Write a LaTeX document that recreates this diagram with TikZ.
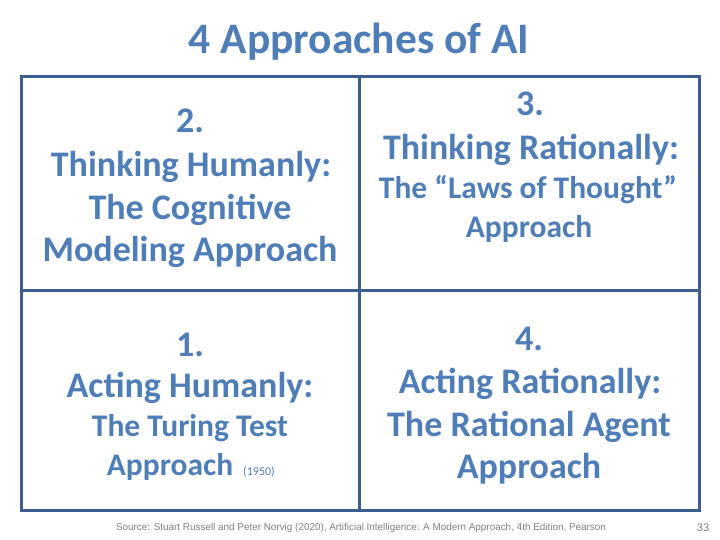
\documentclass[tikz,border=0pt]{standalone}
\usepackage{fontspec}
\setmainfont{Carlito}
\newfontfamily\footfont{Liberation Sans}
\definecolor{gridc}{HTML}{3B5E8C}
\definecolor{txtc}{HTML}{4F7DB8}
\definecolor{footc}{HTML}{7F7F7F}
\begin{document}
\begin{tikzpicture}[x=1pt,y=-1pt,
  lbl/.style={anchor=base,text=txtc,inner sep=0pt,font=\bfseries\fontsize{#1}{#1}\selectfont},
  grid/.style={draw=gridc,line width=3pt}]
\useasboundingbox (0,0) rectangle (720,540);
\node[lbl=43.5] (title) at (359,54) {4 Approaches of AI};
\coordinate (tl) at (21,77);
\coordinate (br) at (699,510);
\draw[grid] (tl) rectangle (br);
\coordinate (mt) at (359,77);
\coordinate (mb) at (359,510);
\coordinate (ml) at (21,290);
\coordinate (mr) at (699,290);
\draw[grid] (mt) -- (mb);
\draw[grid] (ml) -- (mr);
% Q2
\node[lbl=36] (q2a) at (190,133) {2.};
\node[lbl=36] (q2b) at (191,177) {Thinking Humanly:};
\node[lbl=36] (q2c) at (190,219) {The Cognitive};
\node[lbl=36] (q2d) at (190,261) {Modeling Approach};
% Q3
\node[lbl=36] (q3a) at (530,116) {3.};
\node[lbl=36] (q3b) at (531,160) {Thinking Rationally:};
\node[lbl=31.5] (q3c) at (528,199) {The “Laws of Thought”};
\node[lbl=31.5] (q3d) at (529,237) {Approach};
% Q1
\node[lbl=36] (q1a) at (190,356) {1.};
\node[lbl=36] (q1b) at (190,397) {Acting Humanly:};
\node[lbl=31.5] (q1c) at (190,436) {The Turing Test};
\node[lbl=31.5] (q1d) at (170,475) {Approach};
\node[anchor=base west,text=txtc,inner sep=0pt,font=\fontsize{12}{12}\selectfont] (q1e) at (243,475) {(1950)};
% Q4
\node[lbl=36] (q4a) at (529,350) {4.};
\node[lbl=36] (q4b) at (530,393) {Acting Rationally:};
\node[lbl=36] (q4c) at (529,436) {The Rational Agent};
\node[lbl=36] (q4d) at (529,478) {Approach};
% footer
\node[anchor=base,text=footc,inner sep=0pt,font=\footfont\fontsize{9.9}{9.9}\selectfont] (src) at (361,530.5) {Source: Stuart Russell and Peter Norvig (2020), Artificial Intelligence: A Modern Approach, 4th Edition, Pearson};
\node[anchor=base,text=footc,inner sep=0pt,font=\footfont\fontsize{11}{11}\selectfont] (pg) at (703,531) {33};
\end{tikzpicture}
\end{document}
